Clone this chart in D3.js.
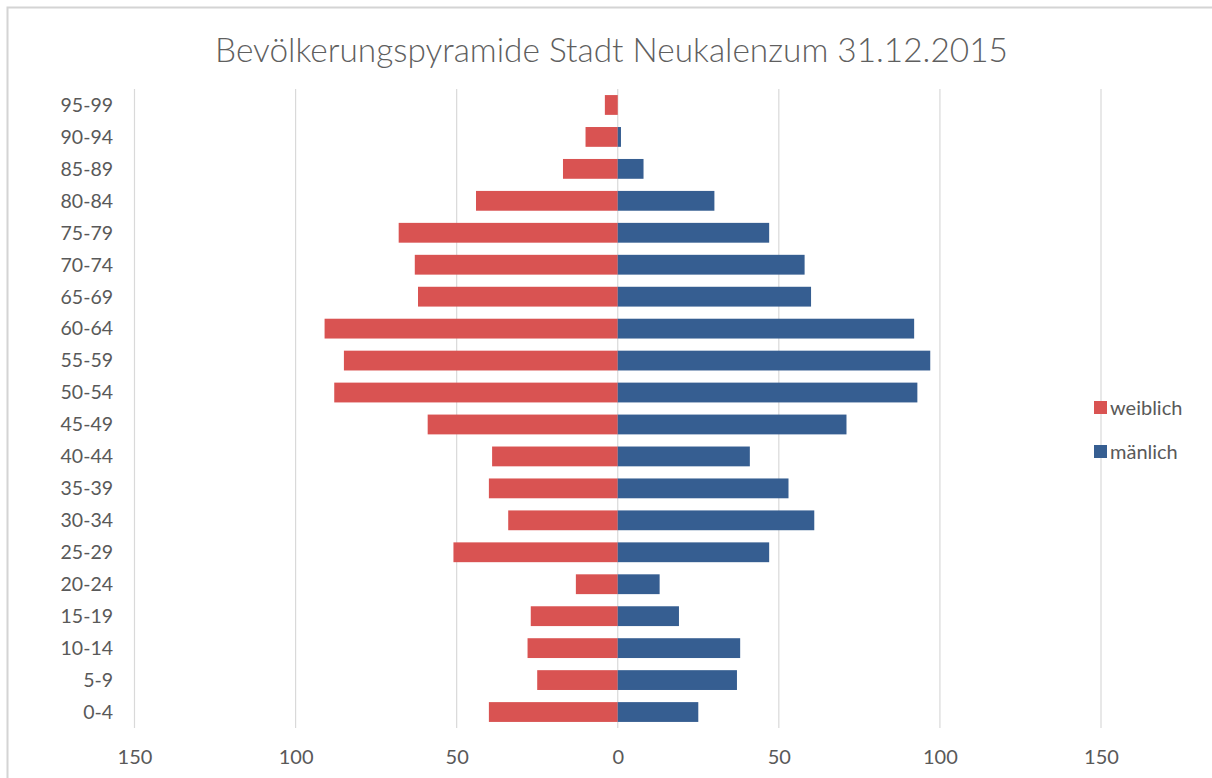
<!DOCTYPE html>
<html>
<head>
<meta charset="utf-8">
<script src="https://cdn.jsdelivr.net/npm/d3@7"></script>
<style>
  html, body { margin: 0; padding: 0; background: #fff; }
  svg { display: block; }
  text { font-family: Lato, "Open Sans", sans-serif; fill: #595959; }
</style>
</head>
<body>
<svg id="chart" width="1212" height="778"></svg>
<script>
const title = "Bevölkerungspyramide Stadt Neukalenzum 31.12.2015";
const ageGroups = ["95-99","90-94","85-89","80-84","75-79","70-74","65-69","60-64","55-59","50-54",
                   "45-49","40-44","35-39","30-34","25-29","20-24","15-19","10-14","5-9","0-4"];
const weiblich = [4,10,17,44,68,63,62,91,85,88,59,39,40,34,51,13,27,28,25,40];
const maennlich = [0,1,8,30,47,58,60,92,97,93,71,41,53,61,47,13,19,38,37,25];
const xTicks = [-150,-100,-50,0,50,100,150];
const seriesNames = ["weiblich","mänlich"];
const seriesColors = ["#d95352","#365e91"];

const svg = d3.select("#chart");
const W = 1212, H = 778;

// chart frame
svg.append("rect").attr("x",7.5).attr("y",7.5).attr("width",W+10).attr("height",H+10)
  .attr("fill","none").attr("stroke","#d4d4d4").attr("stroke-width",2);

const x = d3.scaleLinear().domain([-150,150]).range([134.5,1101]);
const y = d3.scaleBand().domain(ageGroups).range([89,728]).paddingInner(0.38).paddingOuter(0.19);

// gridlines
svg.append("g").selectAll("line").data(xTicks).join("line")
  .attr("x1",d=>x(d)).attr("x2",d=>x(d)).attr("y1",89).attr("y2",728)
  .attr("stroke","#d9d9d9").attr("stroke-width",1.2);

// bars
svg.append("g").selectAll("rect").data(ageGroups).join("rect")
  .attr("x",(d,i)=>x(-weiblich[i])).attr("width",(d,i)=>x(0)-x(-weiblich[i]))
  .attr("y",d=>y(d)).attr("height",y.bandwidth()).attr("fill",seriesColors[0]);
svg.append("g").selectAll("rect").data(ageGroups).join("rect")
  .attr("x",x(0)).attr("width",(d,i)=>x(maennlich[i])-x(0))
  .attr("y",d=>y(d)).attr("height",y.bandwidth()).attr("fill",seriesColors[1]);

// y axis labels
const yAxis = d3.axisLeft(y).tickSize(0).tickPadding(0);
const gy = svg.append("g").attr("transform","translate(113,0)").call(yAxis);
gy.select(".domain").remove();
gy.selectAll("text").style("font-size","19.5px").attr("fill","#595959").attr("dy","0.35em")
  .style("font-family","Lato, 'Open Sans', sans-serif");

// x axis labels
const xAxis = d3.axisBottom(x).tickValues(xTicks).tickSize(0).tickPadding(0).tickFormat(d=>Math.abs(d));
const gx = svg.append("g").attr("transform","translate(0,757)").call(xAxis);
gx.select(".domain").remove();
gx.selectAll("text").style("font-size","20px").attr("fill","#595959").attr("dy","0.35em")
  .style("font-family","Lato, 'Open Sans', sans-serif");

// title
const t = svg.append("text").attr("x",611.5).attr("y",62).attr("text-anchor","middle")
  .style("font-size","30px").style("font-weight","300").attr("fill","#5f5f5f").style("fill","#5f5f5f").text(title);
const tw = t.node().getComputedTextLength();
t.style("font-size",(30*793/tw)+"px");

// legend
const leg = svg.append("g").selectAll("g").data(seriesNames).join("g")
  .attr("transform",(d,i)=>`translate(1094,${401+i*44})`);
leg.append("rect").attr("width",13).attr("height",13).attr("fill",(d,i)=>seriesColors[i]);
leg.append("text").attr("x",16).attr("y",13.5).style("font-size","20px").text(d=>d);
</script>
</body>
</html>
